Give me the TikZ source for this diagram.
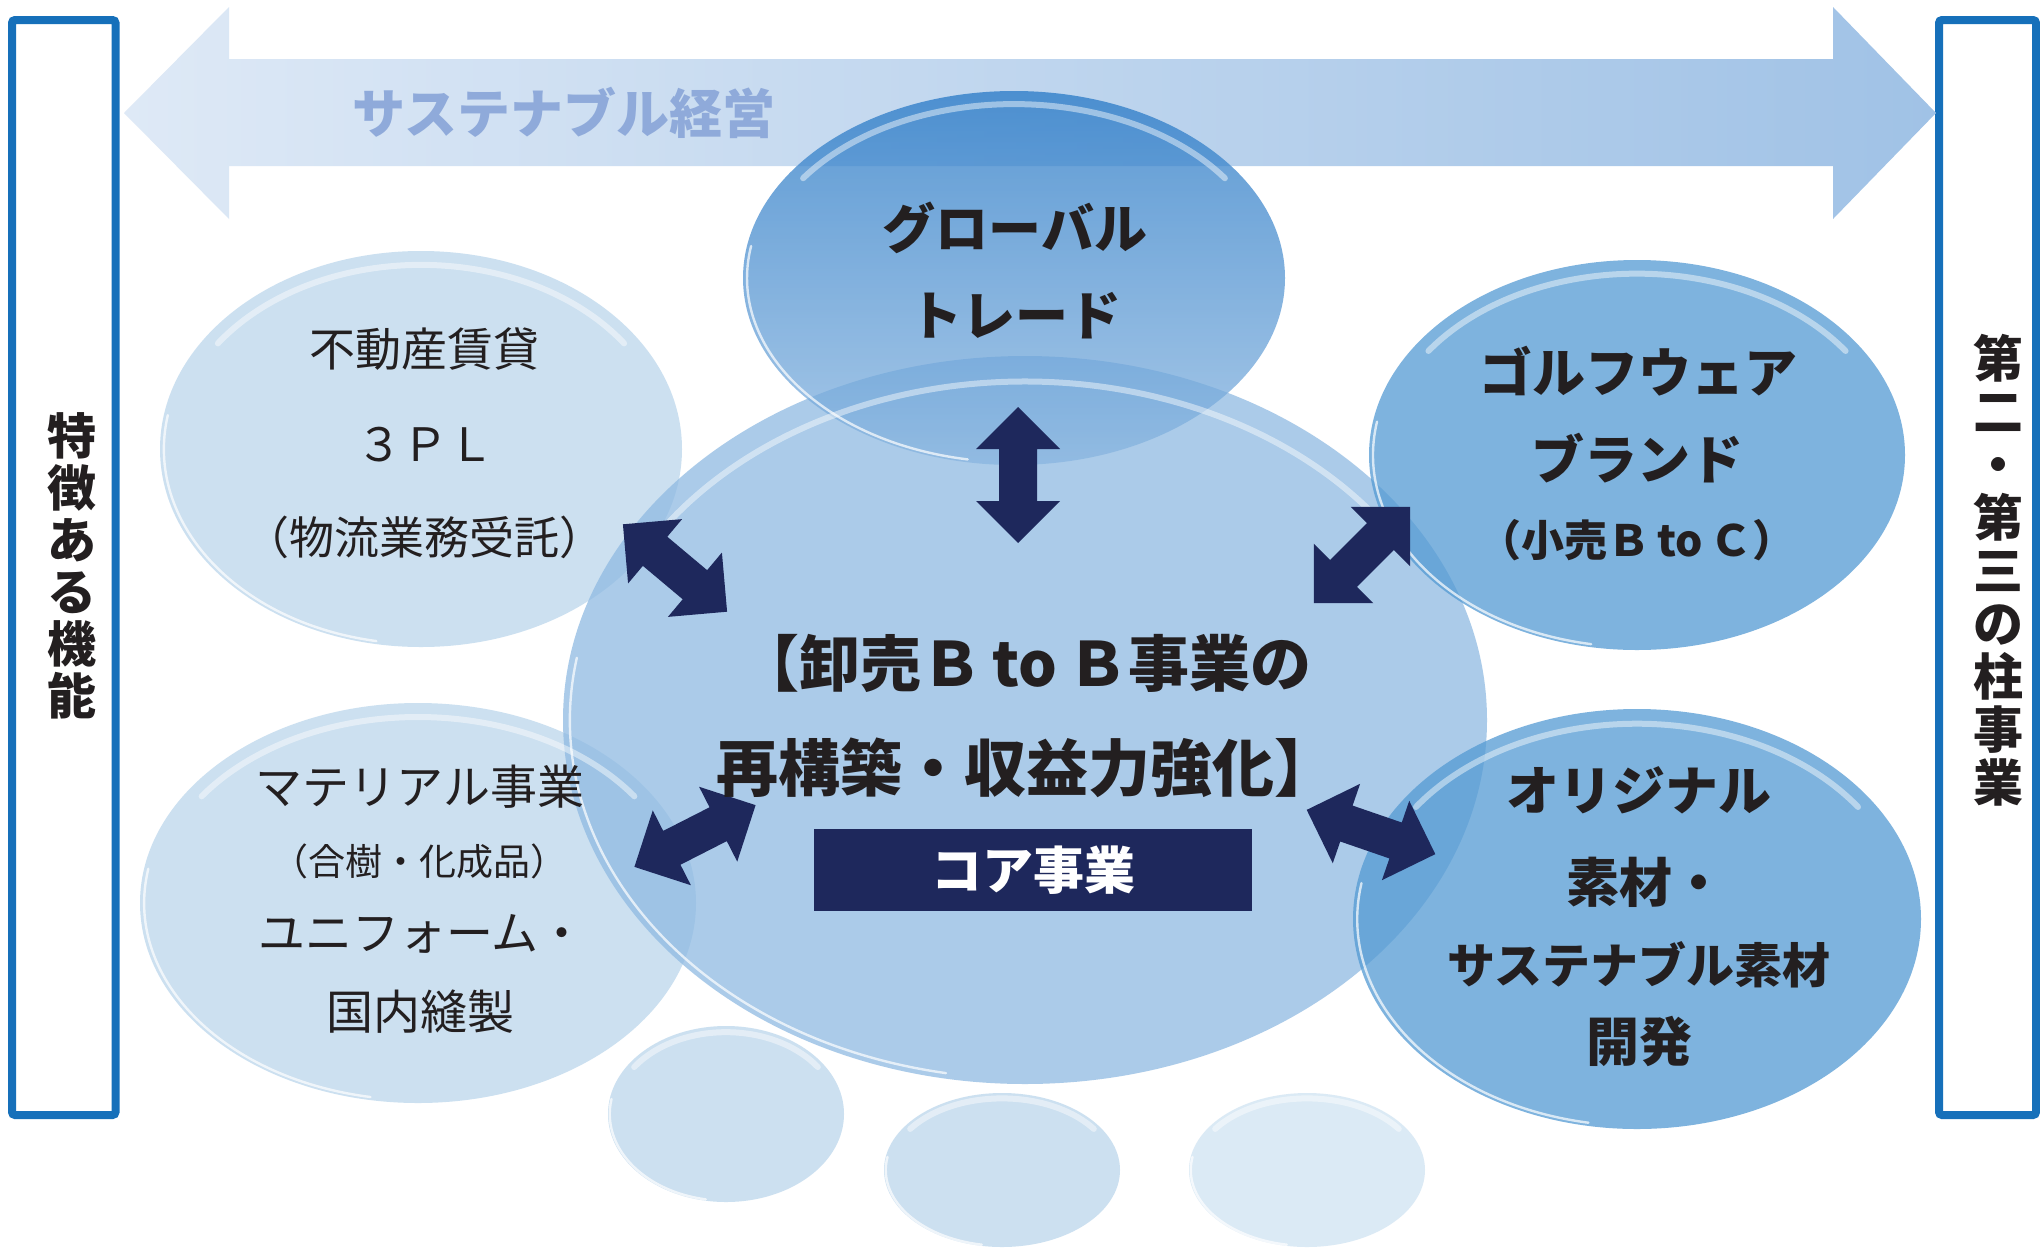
\documentclass[tikz,border=0pt]{standalone}
\usepackage{fontspec}
\newfontfamily\jp{Noto Sans CJK JP}
\usetikzlibrary{shapes.geometric}
\definecolor{ink}{RGB}{35,31,32}
\definecolor{navy}{RGB}{30,40,92}
\definecolor{boxblue}{RGB}{22,112,186}
\definecolor{arrL}{RGB}{222,233,246}
\definecolor{arrR}{RGB}{160,194,230}
\definecolor{sustx}{RGB}{143,170,218}
\definecolor{lightb}{RGB}{187,214,236}
\definecolor{lightc}{RGB}{208,227,242}
\definecolor{corec}{RGB}{143,186,226}
\definecolor{rightc}{RGB}{83,154,211}
\definecolor{gtop}{RGB}{38,120,198}
\definecolor{gbot}{RGB}{138,182,224}
\newcommand\glossarc[4]{%
  \begin{scope}[shift={(#1,#2)}]
    \draw[white, line width=3pt, opacity=.45, line cap=round]
      (215:{0.95*#3} and {0.93*#4}) arc[start angle=215, end angle=325, x radius={0.95*#3}, y radius={0.93*#4}];
    \draw[white, line width=1.2pt, opacity=.7, line cap=round]
      (100:{0.985*#3} and {0.985*#4}) arc[start angle=100, end angle=190, x radius={0.985*#3}, y radius={0.985*#4}];
  \end{scope}}
\newcommand\dblarr[3]{%
  \fill[navy, shift={(#1,#2)}, rotate=#3]
    (-68,0) -- (-26,42) -- (-26,19) -- (26,19) -- (26,42) -- (68,0)
    -- (26,-42) -- (26,-19) -- (-26,-19) -- (-26,-42) -- cycle;}
\begin{document}
\begin{tikzpicture}[x=0.5pt,y=-0.5pt,
  bub/.style={ellipse, inner sep=0pt, outer sep=0pt, fill opacity=.75},
  txt/.style={inner sep=0pt, text=ink, font=\jp},
  fsz/.style={font=\jp\fontsize{#1}{#1}\selectfont},
  bsz/.style={font=\jp\bfseries\fontsize{#1}{#1}\selectfont},
  sidebox/.style={draw=boxblue, line width=4pt, rounded corners=1.5pt}]
\fill[white] (0,0) rectangle (2040,1248);
\useasboundingbox (0,0) rectangle (2040,1248);

% side boxes
\draw[sidebox] (12,20) rectangle (115.5,1115);
\draw[sidebox] (1939,20) rectangle (2036,1115);
\node[txt, align=center, font=\jp\bfseries\fontsize{24.5pt}{26pt}\selectfont] (lefttxt) at (72,566) {特\\徴\\あ\\る\\機\\能};
\node[txt, align=center, font=\jp\bfseries\fontsize{25pt}{26.5pt}\selectfont] (righttxt) at (1998,570) {第\\二\\・\\第\\三\\の\\柱\\事\\業};

% top double arrow
\shade[left color=arrL, right color=arrR]
  (124,113) -- (229,7) -- (229,59) -- (1833,59) -- (1833,7) -- (1936,113)
  -- (1833,219) -- (1833,166) -- (229,166) -- (229,219) -- cycle;
\node[txt, text=sustx, bsz=26.5pt] (sus) at (564,113) {サステナブル経営};

% ellipses
\node[bub, fill=lightb, minimum width=261pt, minimum height=198pt] (fudo) at (421,449) {};
\node[bub, fill=lightb, minimum width=278pt, minimum height=200pt] (mat) at (418,903) {};
\node[bub, fill=corec, minimum width=462pt, minimum height=364pt] (core) at (1025,720) {};
\node[bub, top color=gtop, bottom color=gbot, minimum width=271pt, minimum height=187pt] (glob) at (1014,278) {};
\node[bub, fill=rightc, minimum width=268pt, minimum height=195pt] (golf) at (1637,455) {};
\node[bub, fill=rightc, minimum width=284pt, minimum height=210pt] (orig) at (1637,919) {};
\node[bub, fill=lightb, minimum width=118pt, minimum height=88pt] (b1) at (726,1114) {};
\node[bub, fill=lightb, minimum width=118pt, minimum height=77pt] (b2) at (1002,1170) {};
\node[bub, fill=lightc, minimum width=118pt, minimum height=77pt] (b3) at (1307,1170) {};

\glossarc{421}{449}{261}{198}
\glossarc{418}{903}{278}{200}
\glossarc{1025}{720}{462}{364}
\glossarc{1014}{278}{271}{187}
\glossarc{1637}{455}{268}{195}
\glossarc{1637}{919}{284}{210}
\glossarc{726}{1114}{118}{88}
\glossarc{1002}{1170}{118}{77}
\glossarc{1307}{1170}{118}{77}

% block double arrows
\dblarr{1018}{475}{90}
\dblarr{675}{568}{-40}
\dblarr{1362}{555}{45}
\dblarr{695}{836}{27}
\dblarr{1371}{832}{-19}

% core box
\fill[navy] (814,829) rectangle (1252,911);
\node[txt, text=white, bsz=25.5pt] (coretag) at (1033,870) {コア事業};

% texts
\node[txt, bsz=26.5pt] (g1) at (1015,228) {グローバル};
\node[txt, bsz=26.5pt] (g2) at (1015,316) {トレード};

\node[txt, bsz=30.5pt] (c1) at (1025,663) {【卸売Ｂ\,to\,Ｂ事業の};
\node[txt, bsz=31pt] (c2) at (1026,768) {再構築・収益力強化】};

\node[txt, fsz=23pt] (f1) at (424,349) {不動産賃貸};
\node[txt, fsz=23pt] (f2) at (425,445) {３ＰＬ};
\node[txt, fsz=22.5pt] (f3) at (424,537) {（物流業務受託）};

\node[txt, fsz=23.5pt] (m1) at (420,787) {マテリアル事業};
\node[txt, fsz=18.5pt] (m2) at (419,861) {（合樹・化成品）};
\node[txt, fsz=23.5pt] (m3) at (422,934) {ユニフォーム・};
\node[txt, fsz=23.5pt] (m4) at (420,1012) {国内縫製};

\node[txt, bsz=26.5pt] (w1) at (1638,371) {ゴルフウェア};
\node[txt, bsz=26.5pt] (w2) at (1637,458) {ブランド};
\node[txt, bsz=21.5pt] (w3) at (1637,540) {（小売Ｂ\,to\,Ｃ）};

\node[txt, bsz=26.5pt] (o1) at (1639,790) {オリジナル};
\node[txt, bsz=26.5pt] (o2) at (1646,882) {素材・};
\node[txt, bsz=24pt] (o3) at (1639,965) {サステナブル素材};
\node[txt, bsz=26.5pt] (o4) at (1639,1041) {開発};
\end{tikzpicture}
\end{document}
